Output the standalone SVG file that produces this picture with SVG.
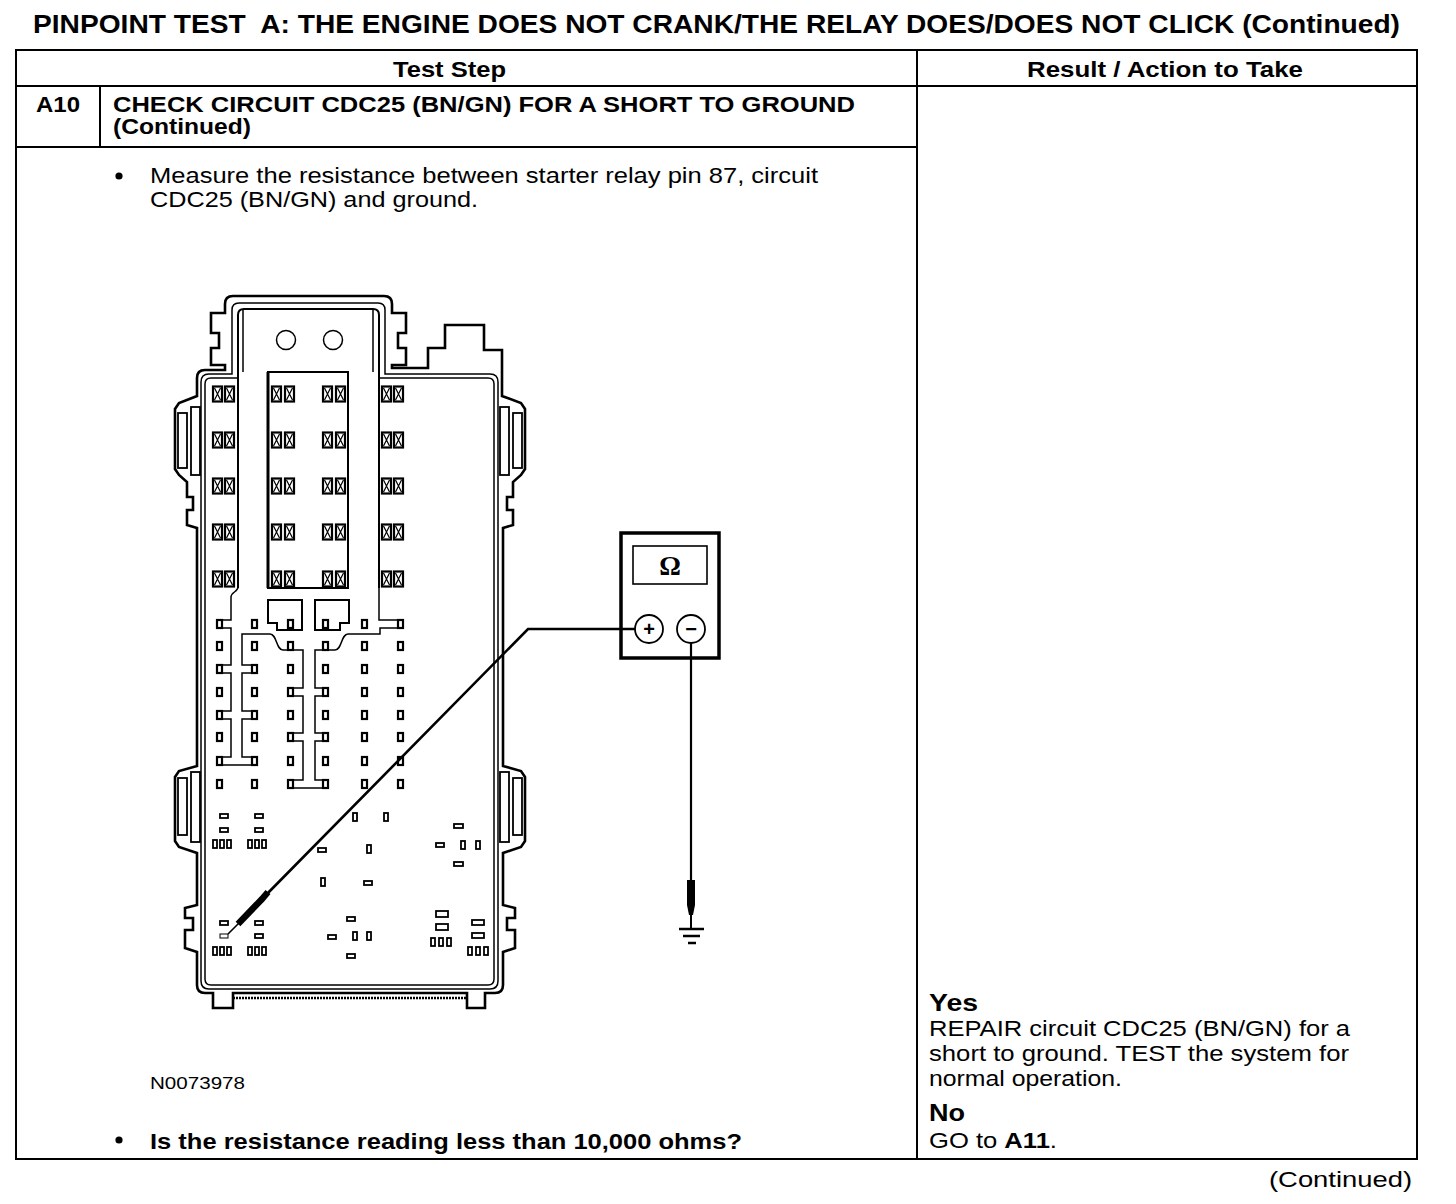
<svg xmlns="http://www.w3.org/2000/svg" xmlns:xlink="http://www.w3.org/1999/xlink" width="1456" height="1204" viewBox="0 0 1456 1204">
<style>
.t{font-family:"Liberation Sans",Arial,sans-serif;fill:#000}
.b{font-weight:bold}
.ln{stroke:#000;fill:none;stroke-width:2}
.thk{stroke:#000;fill:none;stroke-width:2.6;stroke-linejoin:miter}
.thn{stroke:#000;fill:none;stroke-width:1.5}
.pc{fill:#fff;stroke:#000;stroke-width:1.8}
</style>
<defs>
<g id="fz"><rect x="0" y="0" width="9" height="15" fill="#fff" stroke="#000" stroke-width="2.2"/><path d="M1.5,1.5 L7.5,13.5 M7.5,1.5 L1.5,13.5" stroke="#000" stroke-width="1.2"/></g>
<rect id="pn" x="0" y="0" width="5" height="8" fill="#fff" stroke="#000" stroke-width="2.2"/>
<rect id="vp" x="0" y="0" width="4" height="8" fill="#fff" stroke="#000" stroke-width="1.8"/>
<rect id="hp" x="0" y="0" width="8" height="4" fill="#fff" stroke="#000" stroke-width="1.8"/>
</defs>
<rect width="1456" height="1204" fill="#fff"/>

<g id="title">
<text class="t b" x="33" y="33" font-size="26.5" textLength="1367" lengthAdjust="spacingAndGlyphs" xml:space="preserve">PINPOINT TEST  A: THE ENGINE DOES NOT CRANK/THE RELAY DOES/DOES NOT CLICK (Continued)</text>
</g>

<g id="table">
<rect class="ln" x="16" y="50" width="1401" height="1109"/>
<line class="ln" x1="16" y1="86" x2="1417" y2="86"/>
<line class="ln" x1="917" y1="50" x2="917" y2="1159"/>
<line class="ln" x1="16" y1="147" x2="917" y2="147" stroke-width="2.5"/>
<line class="ln" x1="100" y1="86" x2="100" y2="147"/>
<text class="t b" x="393" y="77" font-size="21.5" textLength="113" lengthAdjust="spacingAndGlyphs">Test Step</text>
<text class="t b" x="1027" y="77" font-size="21.5" textLength="276" lengthAdjust="spacingAndGlyphs">Result / Action to Take</text>
<text class="t b" x="36" y="112" font-size="21.5" textLength="44" lengthAdjust="spacingAndGlyphs">A10</text>
<text class="t b" x="113" y="112" font-size="21.5" textLength="742" lengthAdjust="spacingAndGlyphs">CHECK CIRCUIT CDC25 (BN/GN) FOR A SHORT TO GROUND</text>
<text class="t b" x="113" y="134" font-size="21.5" textLength="138" lengthAdjust="spacingAndGlyphs">(Continued)</text>
<circle cx="119" cy="176" r="3.6" fill="#000"/>
<text class="t" x="150" y="183" font-size="22" textLength="668" lengthAdjust="spacingAndGlyphs">Measure the resistance between starter relay pin 87, circuit</text>
<text class="t" x="150" y="207" font-size="22" textLength="328" lengthAdjust="spacingAndGlyphs">CDC25 (BN/GN) and ground.</text>
<text class="t" x="150" y="1089" font-size="16.5" textLength="95" lengthAdjust="spacingAndGlyphs">N0073978</text>
<circle cx="119" cy="1140" r="3.6" fill="#000"/>
<text class="t b" x="150" y="1149" font-size="21.5" textLength="592" lengthAdjust="spacingAndGlyphs">Is the resistance reading less than 10,000 ohms?</text>
<text class="t b" x="929" y="1011" font-size="24.5" textLength="49" lengthAdjust="spacingAndGlyphs">Yes</text>
<text class="t" x="929" y="1036" font-size="22" textLength="421" lengthAdjust="spacingAndGlyphs">REPAIR circuit CDC25 (BN/GN) for a</text>
<text class="t" x="929" y="1061" font-size="22" textLength="420" lengthAdjust="spacingAndGlyphs">short to ground. TEST the system for</text>
<text class="t" x="929" y="1086" font-size="22" textLength="193" lengthAdjust="spacingAndGlyphs">normal operation.</text>
<text class="t b" x="929" y="1121" font-size="24.5" textLength="36" lengthAdjust="spacingAndGlyphs">No</text>
<text class="t" x="929" y="1148" font-size="22" textLength="128" lengthAdjust="spacingAndGlyphs">GO to <tspan class="b">A11</tspan>.</text>
<text class="t" x="1269" y="1187" font-size="22" textLength="143" lengthAdjust="spacingAndGlyphs">(Continued)</text>
</g>

<g id="fusebox">
<path class="thk" d="M225,304 Q225,296 233,296 L384,296 Q392,296 392,304 L392,313 L406,313 L406,333 L398,333 L398,348 L406,348 L406,365 L392,365 L392,368 L428,368 L428,348 L445,348 L445,325 L484,325 L484,350 L502,350 L502,396 L521,403 L525,409 L525,469 L521,475 L513,482 L513,497 L507,497 L507,510 L513,510 L513,525 L503,528 L503,766 L521,771 L525,777 L525,841 L521,847 L503,853 L503,905 L515,908 L515,918 L507,918 L507,930 L515,930 L515,948 L503,952 L503,985 Q503,993 495,993 L485,993 L485,1008 L467,1008 L467,993 L233,993 L233,1008 L213,1008 L213,993 L205,993 Q197,993 197,985 L197,952 L185,948 L185,930 L193,930 L193,918 L185,918 L185,908 L197,905 L197,853 L179,847 L175,841 L175,777 L179,771 L197,766 L197,528 L187,525 L187,510 L193,510 L193,497 L187,497 L187,482 L179,475 L175,469 L175,409 L179,403 L197,396 L197,378 Q197,370 205,370 L225,370 L225,365 L211,365 L211,348 L219,348 L219,333 L211,333 L211,313 L225,313 Z"/>
<line x1="233" y1="998" x2="467" y2="998" stroke="#000" stroke-width="2.5" stroke-dasharray="2 1"/>
<path class="thn" d="M232,374 L232,310 Q232,303 239,303 L378,303 Q385,303 385,310 L385,374 L490,374 Q498,374 498,382 L498,981 Q498,989 490,989 L209,989 Q201,989 201,981 L201,382 Q201,374 209,374 Z"/>
<path class="thn" d="M238,378 L211,378 Q205,378 205,384 L205,979 Q205,985 211,985 L488,985 Q494,985 494,979 L494,384 Q494,378 488,378 L379,378"/>
<path class="ln" d="M238,588 L238,315 Q238,309 244,309 L373,309 Q379,309 379,315 L379,588" stroke-width="2.4"/>
<path class="thn" d="M243,309 L243,372 M373,309 L373,372"/>
<rect class="pc" x="178" y="413" width="9" height="55"/>
<rect class="pc" x="191" y="407" width="9" height="68"/>
<rect class="pc" x="513" y="413" width="9" height="55"/>
<rect class="pc" x="500" y="407" width="9" height="68"/>
<rect class="pc" x="178" y="778" width="9" height="57"/>
<rect class="pc" x="191" y="772" width="9" height="70"/>
<rect class="pc" x="513" y="778" width="9" height="57"/>
<rect class="pc" x="500" y="772" width="9" height="70"/>
<circle class="thn" cx="286" cy="340" r="9.5"/>
<circle class="thn" cx="333" cy="340" r="9.5"/>
<rect class="ln" x="268" y="372" width="80" height="216"/>
<line x1="268" y1="372" x2="268" y2="588" stroke="#000" stroke-width="3"/>
<g id="fuses">
<use href="#fz" x="213" y="386.5"/><use href="#fz" x="225" y="386.5"/><use href="#fz" x="272" y="386.5"/><use href="#fz" x="285" y="386.5"/><use href="#fz" x="323" y="386.5"/><use href="#fz" x="336" y="386.5"/><use href="#fz" x="382" y="386.5"/><use href="#fz" x="394" y="386.5"/>
<use href="#fz" x="213" y="432.5"/><use href="#fz" x="225" y="432.5"/><use href="#fz" x="272" y="432.5"/><use href="#fz" x="285" y="432.5"/><use href="#fz" x="323" y="432.5"/><use href="#fz" x="336" y="432.5"/><use href="#fz" x="382" y="432.5"/><use href="#fz" x="394" y="432.5"/>
<use href="#fz" x="213" y="478.5"/><use href="#fz" x="225" y="478.5"/><use href="#fz" x="272" y="478.5"/><use href="#fz" x="285" y="478.5"/><use href="#fz" x="323" y="478.5"/><use href="#fz" x="336" y="478.5"/><use href="#fz" x="382" y="478.5"/><use href="#fz" x="394" y="478.5"/>
<use href="#fz" x="213" y="524.5"/><use href="#fz" x="225" y="524.5"/><use href="#fz" x="272" y="524.5"/><use href="#fz" x="285" y="524.5"/><use href="#fz" x="323" y="524.5"/><use href="#fz" x="336" y="524.5"/><use href="#fz" x="382" y="524.5"/><use href="#fz" x="394" y="524.5"/>
<use href="#fz" x="213" y="571.5"/><use href="#fz" x="225" y="571.5"/><use href="#fz" x="272" y="571.5"/><use href="#fz" x="285" y="571.5"/><use href="#fz" x="323" y="571.5"/><use href="#fz" x="336" y="571.5"/><use href="#fz" x="382" y="571.5"/><use href="#fz" x="394" y="571.5"/>
</g>
<path class="ln" d="M268,600 L302,600 L302,630 L277,630 L277,623 L268,623 Z M315,600 L349,600 L349,623 L340,623 L340,630 L315,630 Z" stroke-width="2.4"/>
<path class="thn" d="M238,587 C238,592 231,592 231,597 L231,620 L219,620 L219,628 L231,628 L231,665 L219,665 L219,673 L231,673 L231,711 L219,711 L219,719 L231,719 L231,757 L219,757 L219,765 L255,765 L255,757 L242,757 L242,719 L255,719 L255,711 L242,711 L242,673 L255,673 L255,665 L242,665 L242,634 L270,634 C277,634 276,650 283,650 L303,650 L303,688 L290,688 L290,696 L303,696 L303,733 L290,733 L290,741 L303,741 L303,780 L290,780 L290,788 L326,788 L326,780 L315,780 L315,741 L326,741 L326,733 L315,733 L315,696 L326,696 L326,688 L315,688 L315,650 L335,650 C342,650 341,634 348,634 L380,634 L380,628 L400,628 L400,620 L379,620 L379,587" stroke-width="1.8"/>
<g id="pins">
<use href="#pn" x="217" y="620"/><use href="#pn" x="252" y="620"/><use href="#pn" x="288" y="620"/><use href="#pn" x="323" y="620"/><use href="#pn" x="362" y="620"/><use href="#pn" x="398" y="620"/>
<use href="#pn" x="217" y="642"/><use href="#pn" x="252" y="642"/><use href="#pn" x="288" y="642"/><use href="#pn" x="323" y="642"/><use href="#pn" x="362" y="642"/><use href="#pn" x="398" y="642"/>
<use href="#pn" x="217" y="665"/><use href="#pn" x="252" y="665"/><use href="#pn" x="288" y="665"/><use href="#pn" x="323" y="665"/><use href="#pn" x="362" y="665"/><use href="#pn" x="398" y="665"/>
<use href="#pn" x="217" y="688"/><use href="#pn" x="252" y="688"/><use href="#pn" x="288" y="688"/><use href="#pn" x="323" y="688"/><use href="#pn" x="362" y="688"/><use href="#pn" x="398" y="688"/>
<use href="#pn" x="217" y="711"/><use href="#pn" x="252" y="711"/><use href="#pn" x="288" y="711"/><use href="#pn" x="323" y="711"/><use href="#pn" x="362" y="711"/><use href="#pn" x="398" y="711"/>
<use href="#pn" x="217" y="733"/><use href="#pn" x="252" y="733"/><use href="#pn" x="288" y="733"/><use href="#pn" x="323" y="733"/><use href="#pn" x="362" y="733"/><use href="#pn" x="398" y="733"/>
<use href="#pn" x="217" y="757"/><use href="#pn" x="252" y="757"/><use href="#pn" x="288" y="757"/><use href="#pn" x="323" y="757"/><use href="#pn" x="362" y="757"/><use href="#pn" x="398" y="757"/>
<use href="#pn" x="217" y="780"/><use href="#pn" x="252" y="780"/><use href="#pn" x="288" y="780"/><use href="#pn" x="323" y="780"/><use href="#pn" x="362" y="780"/><use href="#pn" x="398" y="780"/>
</g>
<g id="lower-parts">
<use href="#hp" x="220" y="814"/><use href="#hp" x="255" y="814"/><use href="#hp" x="220" y="828"/><use href="#hp" x="255" y="828"/>
<use href="#vp" x="213" y="840"/><use href="#vp" x="220" y="840"/><use href="#vp" x="227" y="840"/><use href="#vp" x="248" y="840"/><use href="#vp" x="255" y="840"/><use href="#vp" x="262" y="840"/>
<use href="#vp" x="353" y="813"/><use href="#vp" x="384" y="813"/><use href="#hp" x="318" y="848"/><use href="#vp" x="367" y="845"/>
<use href="#vp" x="321" y="878"/><use href="#hp" x="364" y="881"/>
<rect class="pc" x="454" y="824" width="9" height="4"/><use href="#hp" x="436" y="843"/><use href="#vp" x="461" y="841"/><use href="#vp" x="476" y="841"/><rect class="pc" x="454" y="862" width="9" height="4"/>
<use href="#hp" x="220" y="921"/><use href="#hp" x="255" y="921"/><rect x="220" y="934" width="8" height="4" fill="#fff" stroke="#000" stroke-width="1"/><use href="#hp" x="255" y="934"/>
<use href="#vp" x="213" y="947"/><use href="#vp" x="220" y="947"/><use href="#vp" x="227" y="947"/><use href="#vp" x="248" y="947"/><use href="#vp" x="255" y="947"/><use href="#vp" x="262" y="947"/>
<use href="#hp" x="347" y="917"/><use href="#hp" x="328" y="935"/><use href="#vp" x="353" y="932"/><use href="#vp" x="367" y="932"/><use href="#hp" x="347" y="954"/>
<rect class="pc" x="436" y="911" width="12" height="6"/><rect class="pc" x="436" y="924" width="12" height="6"/>
<use href="#vp" x="431" y="938"/><use href="#vp" x="439" y="938"/><use href="#vp" x="447" y="938"/>
<rect class="pc" x="472" y="920" width="12" height="5"/><rect class="pc" x="472" y="933" width="12" height="5"/>
<use href="#vp" x="468" y="947"/><use href="#vp" x="476" y="947"/><use href="#vp" x="484" y="947"/>
</g>
</g>

<g id="meter">
<rect x="621" y="533" width="98" height="125" fill="#fff" stroke="#000" stroke-width="3.5"/>
<rect x="633" y="546" width="74" height="38" fill="none" stroke="#000" stroke-width="1.6"/>
<text x="670" y="575" font-family="Liberation Serif,serif" font-size="27" font-weight="bold" text-anchor="middle">Ω</text>
<circle cx="649" cy="629" r="14" fill="#fff" stroke="#000" stroke-width="1.8"/>
<circle cx="691" cy="629" r="14" fill="#fff" stroke="#000" stroke-width="1.8"/>
<text class="t b" x="649" y="636" font-size="20" text-anchor="middle">+</text>
<text class="t b" x="691" y="636" font-size="20" text-anchor="middle">−</text>
</g>

<g id="connectors">
<path d="M635,629 L528,629 L263,898" fill="none" stroke="#000" stroke-width="2.6" stroke-linejoin="miter"/>
<path d="M268,892 L262,899 L238,924" fill="none" stroke="#000" stroke-width="6.5"/>
<line x1="240" y1="922" x2="228" y2="934" stroke="#000" stroke-width="1.6"/>
<line x1="691" y1="643" x2="691" y2="882" stroke="#000" stroke-width="2.2"/>
<path d="M687,880 L695,880 L695,905 L693,915 L689,915 L687,905 Z" fill="#000"/>
<line x1="691" y1="914" x2="691" y2="929" stroke="#000" stroke-width="2"/>
</g>

<g id="ground">
<line x1="679" y1="929" x2="704" y2="929" stroke="#000" stroke-width="2.5"/>
<line x1="683" y1="936" x2="700" y2="936" stroke="#000" stroke-width="2.5"/>
<line x1="688" y1="943" x2="696" y2="943" stroke="#000" stroke-width="2.5"/>
</g>
</svg>
